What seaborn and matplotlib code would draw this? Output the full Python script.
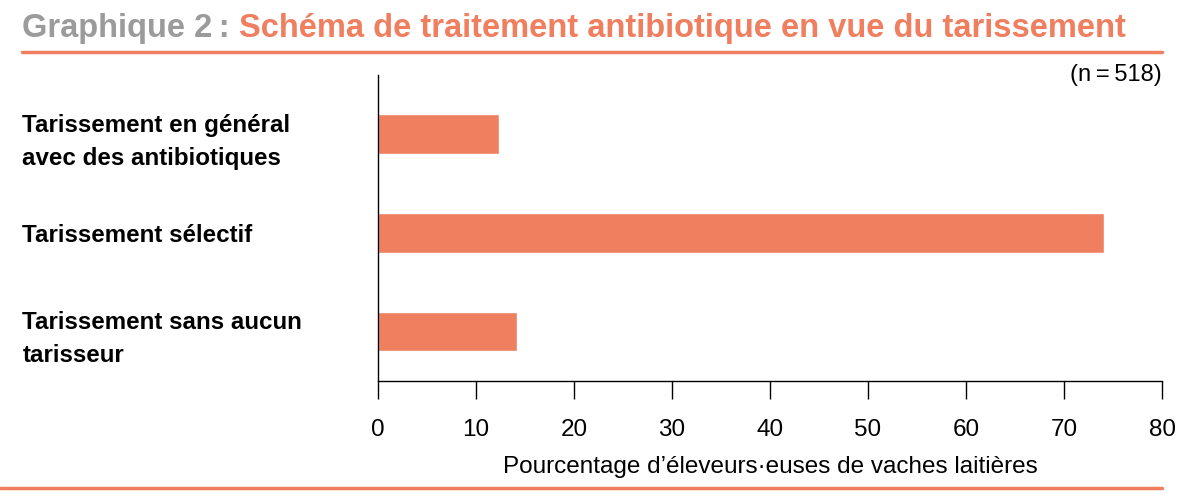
import matplotlib
matplotlib.use("Agg")
import matplotlib.pyplot as plt
import seaborn as sns
import pandas as pd
from matplotlib.lines import Line2D

# Data
categories = [
    "Tarissement en général\navec des antibiotiques",
    "Tarissement sélectif",
    "Tarissement sans aucun\ntarisseur",
]
values = [12.3, 74.1, 14.2]
xticks = [0, 10, 20, 30, 40, 50, 60, 70, 80]

title_grey = "Graphique 2\u2009: "
title_orange = "Schéma de traitement antibiotique en vue du tarissement"
n_note = "(n\u2009=\u2009518)"
xlabel = "Pourcentage d\u2019éleveurs\u00b7euses de vaches laitières"

orange = "#EF7F5F"
grey = "#9B9B9B"

sns.set_theme(style="white")
plt.rcParams["font.family"] = ["Liberation Sans", "DejaVu Sans"]
plt.rcParams["text.color"] = "black"
plt.rcParams["xtick.color"] = "black"
plt.rcParams["ytick.color"] = "black"
plt.rcParams["axes.labelcolor"] = "black"

df = pd.DataFrame({"cat": categories, "val": values})

fig = plt.figure(figsize=(11.98, 5.04), dpi=100)
ax = fig.add_axes([378 / 1198, 1 - 381 / 504, (1162 - 378) / 1198, (381 - 75) / 504])

sns.barplot(data=df, x="val", y="cat", color=orange, width=0.4, saturation=1, ax=ax)
ax.set_xlim(0, 80)
ax.set_ylim(2.5, -0.6)
ax.set_xticks(xticks)
ax.set_xticklabels([str(t) for t in xticks], fontsize=17.5)
ax.set_xlabel(xlabel, fontsize=17.5, labelpad=11)
ax.set_ylabel("")

for s in ["top", "right"]:
    ax.spines[s].set_visible(False)
ax.spines["left"].set_color("black")
ax.spines["bottom"].set_color("black")
ax.spines["left"].set_linewidth(1)
ax.spines["bottom"].set_linewidth(1)

ax.tick_params(axis="x", direction="out", length=13, width=1, color="black", pad=14, bottom=True)
ax.tick_params(axis="y", length=0, pad=256)
for lbl in ax.get_yticklabels():
    lbl.set_horizontalalignment("left")
    lbl.set_fontweight("bold")
    lbl.set_fontsize(17.4)
    lbl.set_linespacing(1.55)

# n note
fig.text(1162 / 1198, 1 - 75 / 504, n_note, ha="right", va="center", fontsize=17)

# two-colour title
t1 = fig.text(22 / 1198, 1 - 29 / 504, title_grey, ha="left", va="center",
              fontsize=23.5, fontweight="bold", color=grey)
fig.canvas.draw()
bb = t1.get_window_extent()
fig.text(bb.x1 / 1198, 1 - 29 / 504, title_orange, ha="left", va="center",
         fontsize=23.5, fontweight="bold", color=orange)

# rules
fig.add_artist(Line2D([22 / 1198, 1162 / 1198], [1 - 52 / 504] * 2, color=orange, lw=2.5,
                      transform=fig.transFigure))
fig.add_artist(Line2D([0, 1162 / 1198], [1 - 488 / 504] * 2, color=orange, lw=2.5,
                      transform=fig.transFigure))

fig.savefig("out.png", dpi=100)
